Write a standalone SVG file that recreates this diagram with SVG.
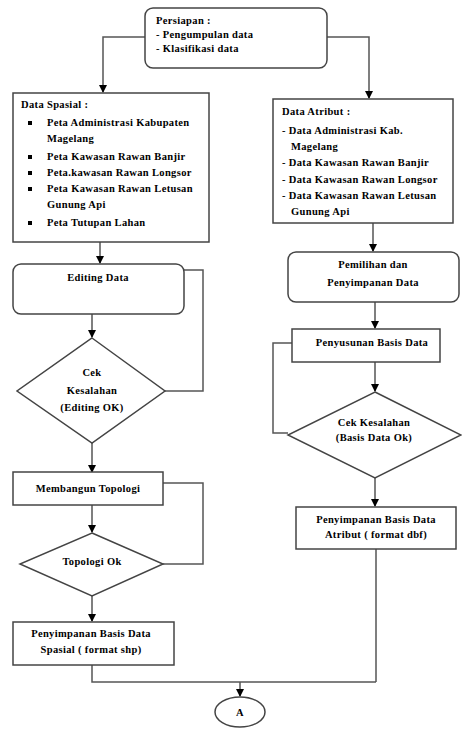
<svg xmlns="http://www.w3.org/2000/svg" width="462" height="729" viewBox="0 0 462 729">
<style>
.box{fill:#fff;stroke:#444;stroke-width:1.5}
.ln{fill:none;stroke:#555;stroke-width:1.5}
.t{font-family:"Liberation Serif",serif;font-weight:bold;font-size:10.5px;letter-spacing:0.35px;fill:#000}
.c{text-anchor:middle}
</style>
<defs>
<marker id="ar" markerWidth="8" markerHeight="8" refX="7" refY="4" orient="auto" markerUnits="userSpaceOnUse">
<path d="M0,0 L8,4 L0,8 Z" fill="#000"/>
</marker>
</defs>
<rect width="462" height="729" fill="#fff"/>
<g id="connectors">
<path class="ln" d="M145,37 H103 V92" marker-end="url(#ar)"/>
<path class="ln" d="M327,37 H369 V98" marker-end="url(#ar)"/>
<path class="ln" d="M100,242 V263" marker-end="url(#ar)"/>
<path class="ln" d="M92,314 V337" marker-end="url(#ar)"/>
<path class="ln" d="M184,270 H203 V391 H165"/>
<path class="ln" d="M92,443 V472" marker-end="url(#ar)"/>
<path class="ln" d="M92,505 V532" marker-end="url(#ar)"/>
<path class="ln" d="M163,483 H203 V564 H163"/>
<path class="ln" d="M92,596 V621" marker-end="url(#ar)"/>
<path class="ln" d="M92,665 V682 H376"/>
<path class="ln" d="M373,223 V251" marker-end="url(#ar)"/>
<path class="ln" d="M375,302 V328" marker-end="url(#ar)"/>
<path class="ln" d="M375,362 V391" marker-end="url(#ar)"/>
<path class="ln" d="M292,343 H273 V433 H288"/>
<path class="ln" d="M375,478 V506" marker-end="url(#ar)"/>
<path class="ln" d="M376,549 V682"/>
<path class="ln" d="M240,682 V696" marker-end="url(#ar)"/>
</g>
<g id="persiapan">
<rect class="box" x="145" y="8" width="182" height="60" rx="8"/>
<text class="t" x="156" y="24">Persiapan :</text>
<text class="t" x="156" y="38">- Pengumpulan data</text>
<text class="t" x="156" y="52">- Klasifikasi data</text>
</g>
<g id="data-spasial">
<rect class="box" x="13" y="93" width="196" height="149"/>
<text class="t" x="21" y="108">Data Spasial :</text>
<rect x="28" y="121" width="4" height="4" fill="#000"/>
<text class="t" x="47" y="126">Peta Administrasi Kabupaten</text>
<text class="t" x="47" y="142">Magelang</text>
<rect x="28" y="155" width="4" height="4" fill="#000"/>
<text class="t" x="47" y="160">Peta Kawasan  Rawan Banjir</text>
<rect x="28" y="171" width="4" height="4" fill="#000"/>
<text class="t" x="47" y="176">Peta.kawasan Rawan Longsor</text>
<rect x="28" y="187" width="4" height="4" fill="#000"/>
<text class="t" x="47" y="192">Peta Kawasan Rawan Letusan</text>
<text class="t" x="47" y="208">Gunung Api</text>
<rect x="28" y="221" width="4" height="4" fill="#000"/>
<text class="t" x="47" y="226">Peta Tutupan Lahan</text>
</g>
<g id="data-atribut">
<rect class="box" x="273" y="99" width="180" height="124"/>
<text class="t" x="282" y="115">Data Atribut :</text>
<text class="t" x="282" y="134">- Data Administrasi Kab.</text>
<text class="t" x="291" y="150">Magelang</text>
<text class="t" x="282" y="166">- Data Kawasan Rawan Banjir</text>
<text class="t" x="282" y="183">- Data Kawasan Rawan Longsor</text>
<text class="t" x="282" y="199">- Data Kawasan Rawan Letusan</text>
<text class="t" x="291" y="215">Gunung Api</text>
</g>
<g id="editing-data">
<rect class="box" x="13" y="264" width="171" height="50" rx="8"/>
<text class="t c" x="98" y="281">Editing Data</text>
</g>
<g id="cek-editing">
<polygon class="box" points="92,338 165,391 92,443 17,391"/>
<text class="t c" x="92" y="376">Cek</text>
<text class="t c" x="92" y="394">Kesalahan</text>
<text class="t c" x="92" y="411">(Editing OK)</text>
</g>
<g id="membangun-topologi">
<rect class="box" x="13" y="472" width="150" height="33"/>
<text class="t c" x="88" y="492">Membangun Topologi</text>
</g>
<g id="topologi-ok">
<polygon class="box" points="92,533 163,564 92,596 20,564"/>
<text class="t c" x="92" y="565">Topologi Ok</text>
</g>
<g id="simpan-spasial">
<rect class="box" x="13" y="622" width="161" height="43"/>
<text class="t c" x="91" y="637">Penyimpanan Basis Data</text>
<text class="t c" x="91" y="653">Spasial ( format shp)</text>
</g>
<g id="pemilihan">
<rect class="box" x="288" y="252" width="171" height="50" rx="8"/>
<text class="t c" x="373" y="268">Pemilihan dan</text>
<text class="t c" x="373" y="286">Penyimpanan Data</text>
</g>
<g id="penyusunan">
<rect class="box" x="292" y="329" width="148" height="33"/>
<text class="t c" x="372" y="346">Penyusunan Basis Data</text>
</g>
<g id="cek-basis">
<polygon class="box" points="375,392 461,435 375,478 288,435"/>
<text class="t c" x="374" y="426">Cek Kesalahan</text>
<text class="t c" x="374" y="441">(Basis Data Ok)</text>
</g>
<g id="simpan-atribut">
<rect class="box" x="296" y="507" width="160" height="42"/>
<text class="t c" x="376" y="523">Penyimpanan Basis Data</text>
<text class="t c" x="376" y="538">Atribut ( format dbf)</text>
</g>
<g id="konektor-a">
<ellipse class="box" cx="240" cy="712" rx="25" ry="15"/>
<text class="t c" x="240" y="716">A</text>
</g>
</svg>
